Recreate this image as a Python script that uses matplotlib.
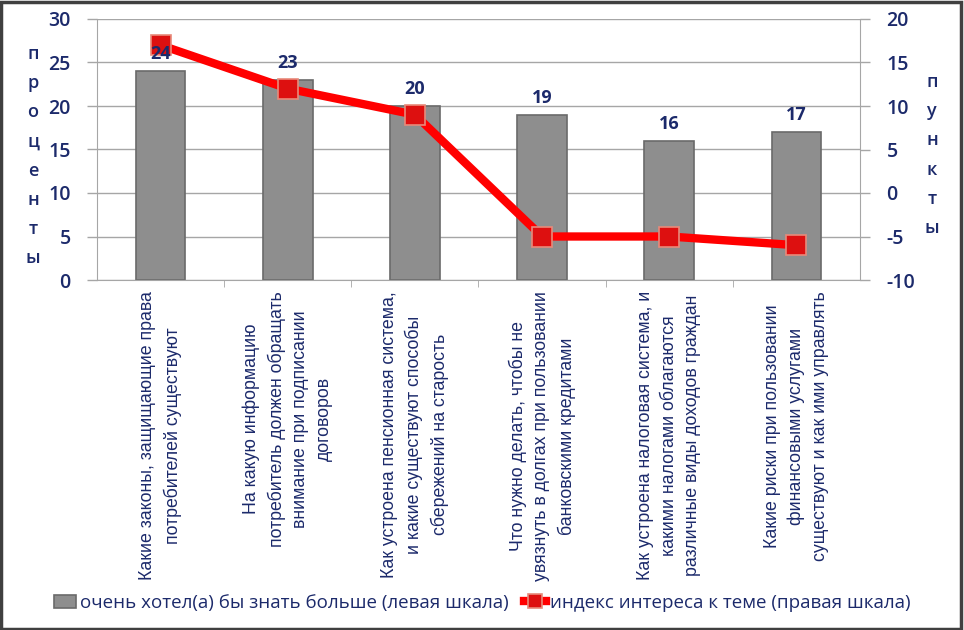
import matplotlib.pyplot as plt
import numpy as np
from matplotlib.patches import Rectangle

plt.rcParams['axes.unicode_minus'] = False

categories = [
    'Какие законы, защищающие права\nпотребителей существуют',
    'На какую информацию\nпотребитель должен обращать\nвнимание при подписании\nдоговоров',
    'Как устроена пенсионная система,\nи какие существуют способы\nсбережений на старость',
    'Что нужно делать, чтобы не\nувязнуть в долгах при пользовании\nбанковскими кредитами',
    'Как устроена налоговая система, и\nкакими налогами облагаются\nразличные виды доходов граждан',
    'Какие риски при пользовании\nфинансовыми услугами\nсуществуют и как ими управлять',
]
want_more = [24, 23, 20, 19, 16, 17]
interest_index = [17, 12, 9, -5, -5, -6]

left_ticks = [0, 5, 10, 15, 20, 25, 30]
right_ticks = [-10, -5, 0, 5, 10, 15, 20]

navy = '#1c2a6b'
grid_gray = '#a6a6a6'

fig = plt.figure(figsize=(9.64, 6.30), dpi=100)
ax = fig.add_axes([97 / 964, 1 - 280 / 630, 763 / 964, 261 / 630])
x = np.arange(len(categories))

bars = ax.bar(x, want_more, width=0.39, color='#8e8e8e', edgecolor='#6a6a6a',
              linewidth=1.2, zorder=2, label='очень хотел(а) бы знать больше (левая шкала)')

ax.set_xlim(-0.5, len(categories) - 0.5)
ax.set_ylim(0, 30)
ax.set_yticks(left_ticks)
ax.yaxis.grid(True, color=grid_gray, linewidth=1)
ax.set_axisbelow(True)
ax.set_xticks(x)
ax.set_xticklabels(categories, rotation=90, ha='center', va='top',
                   multialignment='center', fontsize=12.8, color=navy,
                   family='Liberation Sans', linespacing=1.5)
ax.tick_params(axis='x', length=0, pad=8)
ax.set_xticks(np.arange(0.5, len(categories) - 0.5), minor=True)
ax.tick_params(axis='x', which='minor', length=5, color=grid_gray, direction='out')
ax.tick_params(axis='y', length=7, color=grid_gray, width=1, labelsize=14,
               labelcolor=navy, pad=12)
for lbl in ax.get_yticklabels():
    lbl.set_family('Open Sans')
    lbl.set_fontweight('semibold')
for s in ['left', 'bottom']:
    ax.spines[s].set_color(grid_gray)
ax.spines['top'].set_visible(False)
ax.spines['right'].set_visible(False)

ax2 = ax.twinx()
ax2.set_ylim(-10, 20)
ax2.set_yticks(right_ticks)
line, = ax2.plot(x, interest_index, color='#ff0000', linewidth=6, marker='s',
                 markersize=14, markerfacecolor='#dd1010', markeredgecolor='#e88a7a',
                 markeredgewidth=1.2, zorder=4, label='индекс интереса к теме (правая шкала)')
ax2.tick_params(axis='y', length=7, color=grid_gray, width=1, labelsize=14,
                labelcolor=navy, pad=12)
for lbl in ax2.get_yticklabels():
    lbl.set_family('Open Sans')
    lbl.set_fontweight('semibold')
ax2.spines['right'].set_color(grid_gray)
ax2.spines['left'].set_visible(False)
ax2.spines['top'].set_visible(False)
ax2.spines['bottom'].set_visible(False)

# bar value labels drawn on top of the line
for xi, v in zip(x, want_more):
    ax2.text(xi, v + 0.9, str(v), transform=ax.transData, ha='center', va='bottom',
             color=navy, fontsize=13, fontweight='bold', family='Open Sans', zorder=6)

fig.text(33 / 964, 1 - 156 / 630, '\n'.join('проценты'), ha='center', va='center',
         color=navy, fontsize=13, fontweight='semibold', family='Open Sans', linespacing=1.8)
fig.text(932 / 964, 1 - 155 / 630, '\n'.join('пункты'), ha='center', va='center',
         color=navy, fontsize=13, fontweight='semibold', family='Open Sans', linespacing=1.8)

fig.legend(handles=[bars, line], loc='center', bbox_to_anchor=(0.5, 1 - 603 / 630),
           ncol=2, frameon=False, labelcolor=navy, handlelength=1.2, markerscale=0.7,
           handletextpad=0.2, columnspacing=0.8, prop={'family': 'Open Sans', 'size': 13.5})

fig.patches.append(Rectangle((0.001, 0.001), 0.996, 0.996, transform=fig.transFigure,
                             fill=False, edgecolor='#404040', linewidth=2.5))

fig.savefig('out.png', dpi=100)
